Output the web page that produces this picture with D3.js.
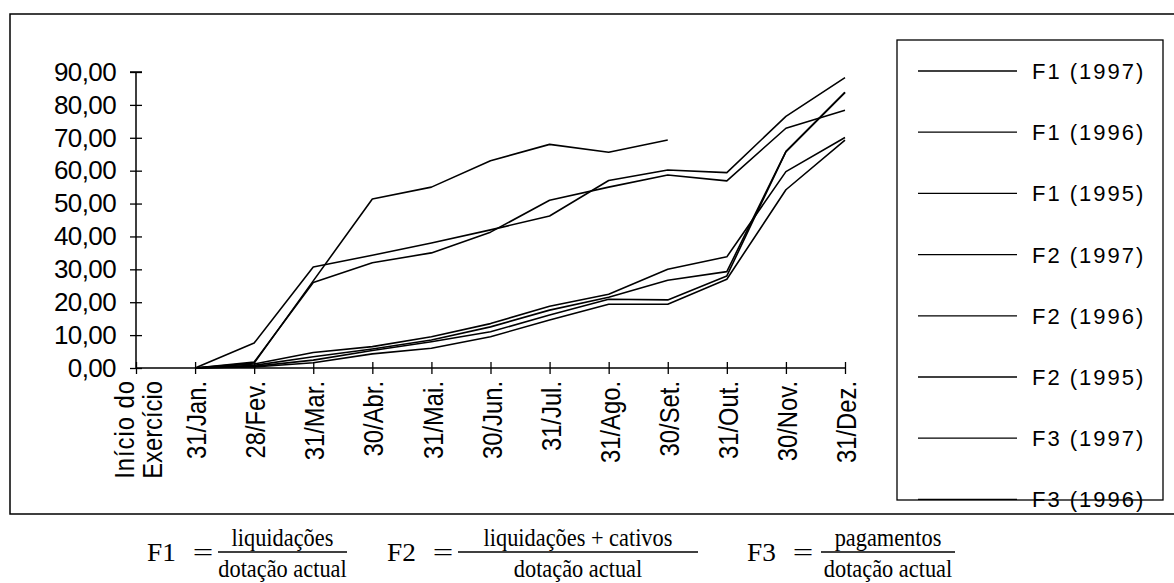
<!DOCTYPE html>
<html>
<head>
<meta charset="utf-8">
<script src="https://cdn.jsdelivr.net/npm/d3@7"></script>
<style>
  body { margin: 0; background: #fff; }
  svg { display: block; }
</style>
</head>
<body>
<div id="chart"></div>
<script>
// categories on the x axis (first one has no data)
var categories = ["Início do Exercício", "31/Jan.", "28/Fev.", "31/Mar.", "30/Abr.", "31/Mai.",
                  "30/Jun.", "31/Jul.", "31/Ago.", "30/Set.", "31/Out.", "30/Nov.", "31/Dez."];

var yTicks = [0, 10, 20, 30, 40, 50, 60, 70, 80, 90];

// series values (null = no value)
var f1_1997 = [null, 0, 1.5, 26.5, 51.4, 55, 63, 68, 65.6, 69.3, null, null, null];
var f1_1996 = [null, 0, 1.8, 26, 32, 35, 41.3, 51, 55, 58.7, 56.9, 72.9, 78.4];
var f2_1996 = [null, 0, 7.6, 30.7, 34.3, 38, 42, 46.2, 57, 60.2, 59.4, 76.5, 88.3];
var f1_1995 = [null, 0, 0.8, 3.4, 5.8, 8.5, 12.5, 17.6, 21.5, 26.7, 29.3, 65.8, 83.8];
var f2_1995 = [null, 0, 1.2, 4.7, 6.5, 9.5, 13.5, 18.8, 22.4, 30, 33.8, 59.7, 70.1];
var f3_1996 = [null, 0, 0.5, 2.4, 5.3, 8, 11, 16.1, 20.9, 20.7, 28, 65.8, 83.8];
var f3_1995 = [null, 0, 0.3, 1.6, 4.3, 6, 9.5, 14.6, 19.4, 19.4, 27, 54.2, 69.3];

var legendLabels = ["F1 (1997)", "F1 (1996)", "F1 (1995)", "F2 (1997)", "F2 (1996)",
                    "F2 (1995)", "F3 (1997)", "F3 (1996)", "F3 (1995)"];

var series = [
    { name: "F1 (1997)", values: f1_1997 },
    { name: "F1 (1996)", values: f1_1996 },
    { name: "F2 (1996)", values: f2_1996 },
    { name: "F1 (1995)", values: f1_1995 },
    { name: "F2 (1995)", values: f2_1995 },
    { name: "F3 (1996)", values: f3_1996 },
    { name: "F3 (1995)", values: f3_1995 }
];

var width = 1174, height = 583;

var svg = d3.select("#chart")
    .append("svg")
    .attr("width", width)
    .attr("height", height);

var sans = "'Liberation Sans', Arial, Helvetica, sans-serif";
var serif = "'Liberation Serif', 'Times New Roman', serif";

// outer frame (open on the right)
svg.append("path")
    .attr("d", "M1176,14 H10 V514 H1176")
    .attr("fill", "none")
    .attr("stroke", "#000")
    .attr("stroke-width", 1.5);

// scales
var x = d3.scalePoint()
    .domain(categories)
    .range([136, 845]);

var y = d3.scaleLinear()
    .domain([0, 90])
    .range([368, 72]);

// Y axis
var yAxis = svg.append("g")
    .attr("transform", "translate(" + x(categories[0]) + ",0)")
    .call(d3.axisLeft(y).tickValues(yTicks).tickSize(6).tickPadding(14)
        .tickFormat(function (d) { return d3.format(".2f")(d).replace(".", ","); }));
yAxis.select(".domain").attr("d", "M-6," + y(90) + "H6M0," + y(90) + "V" + y(0))
    .attr("stroke-width", 1.5);
yAxis.selectAll(".tick line").attr("x1", -6).attr("x2", 6).attr("stroke-width", 1.3);
yAxis.selectAll("text")
    .style("font-family", sans)
    .style("font-size", "26px")
    .style("letter-spacing", "-0.6px")
    .attr("fill", "#000");

// X axis
var xAxis = svg.append("g")
    .attr("transform", "translate(0," + y(0) + ")")
    .call(d3.axisBottom(x).tickSize(6).tickFormat(""));
xAxis.select(".domain").attr("d", "M" + x(categories[0]) + ",0H" + x(categories[12]))
    .attr("stroke-width", 1.5);
xAxis.selectAll(".tick line").attr("y1", -6).attr("y2", 6).attr("stroke-width", 1.3);

// X labels, rotated
var labels = svg.append("g");
function rotLabel(px, txt) {
    return labels.append("text")
        .attr("transform", "translate(" + px + ",381) rotate(-90) scale(0.85,1)")
        .attr("text-anchor", "end")
        .attr("dy", "0.36em")
        .style("font-family", sans)
        .style("font-size", "28px")
        .text(txt);
}
categories.slice(1).forEach(function (c) { rotLabel(x(c) + 1, c); });

// first label on two lines, centred on its tick
var parts = categories[0].split(" ");
var line2 = rotLabel(x(categories[0]) + 16, parts[2]);
var len = line2.node().getComputedTextLength();
rotLabel(x(categories[0]) - 12, parts[0] + " " + parts[1])
    .attr("textLength", len)
    .attr("lengthAdjust", "spacing");

// lines
var line = d3.line()
    .defined(function (d) { return d != null; })
    .x(function (d, i) { return x(categories[i]); })
    .y(function (d) { return y(d); });

svg.append("g").selectAll("path")
    .data(series)
    .enter()
    .append("path")
    .attr("d", function (d) { return line(d.values); })
    .attr("fill", "none")
    .attr("stroke", "#000")
    .attr("stroke-width", 1.6)
    .attr("stroke-linejoin", "round");

// legend
svg.append("clipPath").attr("id", "legclip")
    .append("rect").attr("x", 880).attr("y", 20).attr("width", 300).attr("height", 493);

var leg = svg.append("g").attr("clip-path", "url(#legclip)");
leg.append("rect")
    .attr("x", 897).attr("y", 40)
    .attr("width", 266).attr("height", 460)
    .attr("fill", "none")
    .attr("stroke", "#000")
    .attr("stroke-width", 1.3);

var items = leg.selectAll(".item")
    .data(legendLabels)
    .enter()
    .append("g")
    .attr("transform", function (d, i) { return "translate(0," + (71 + i * 61.2) + ")"; });
items.append("line")
    .attr("x1", 918).attr("x2", 1017)
    .attr("stroke", "#000").attr("stroke-width", 1.3);
items.append("text")
    .attr("x", 1032)
    .attr("dy", "0.36em")
    .style("font-family", sans)
    .style("font-size", "22px")
    .style("letter-spacing", "2px")
    .text(function (d) { return d; });

// formulas below the chart
var formulas = [
    { name: "F1", num: "liquidações", den: "dotação actual", x0: 147, bar: [218, 347] },
    { name: "F2", num: "liquidações + cativos", den: "dotação actual", x0: 387, bar: [458, 698] },
    { name: "F3", num: "pagamentos", den: "dotação actual", x0: 747, bar: [821, 955] }
];
var fg = svg.append("g").style("font-family", serif).style("font-size", "26px");
function ftext(px, py, anchor, txt, sx) {
    fg.append("text")
        .attr("transform", "translate(" + px + "," + py + ") scale(" + sx + ",1)")
        .attr("text-anchor", anchor)
        .text(txt);
}
formulas.forEach(function (f) {
    var cx = (f.bar[0] + f.bar[1]) / 2;
    ftext(f.x0, 561, "start", f.name, 1.05);
    ftext(f.x0 + 56, 561, "middle", "=", 1.4);
    fg.append("line").attr("x1", f.bar[0]).attr("x2", f.bar[1])
        .attr("y1", 552).attr("y2", 552)
        .attr("stroke", "#000").attr("stroke-width", 1.3);
    ftext(cx, 546, "middle", f.num, 0.86);
    ftext(cx, 577, "middle", f.den, 0.86);
});
</script>
</body>
</html>
